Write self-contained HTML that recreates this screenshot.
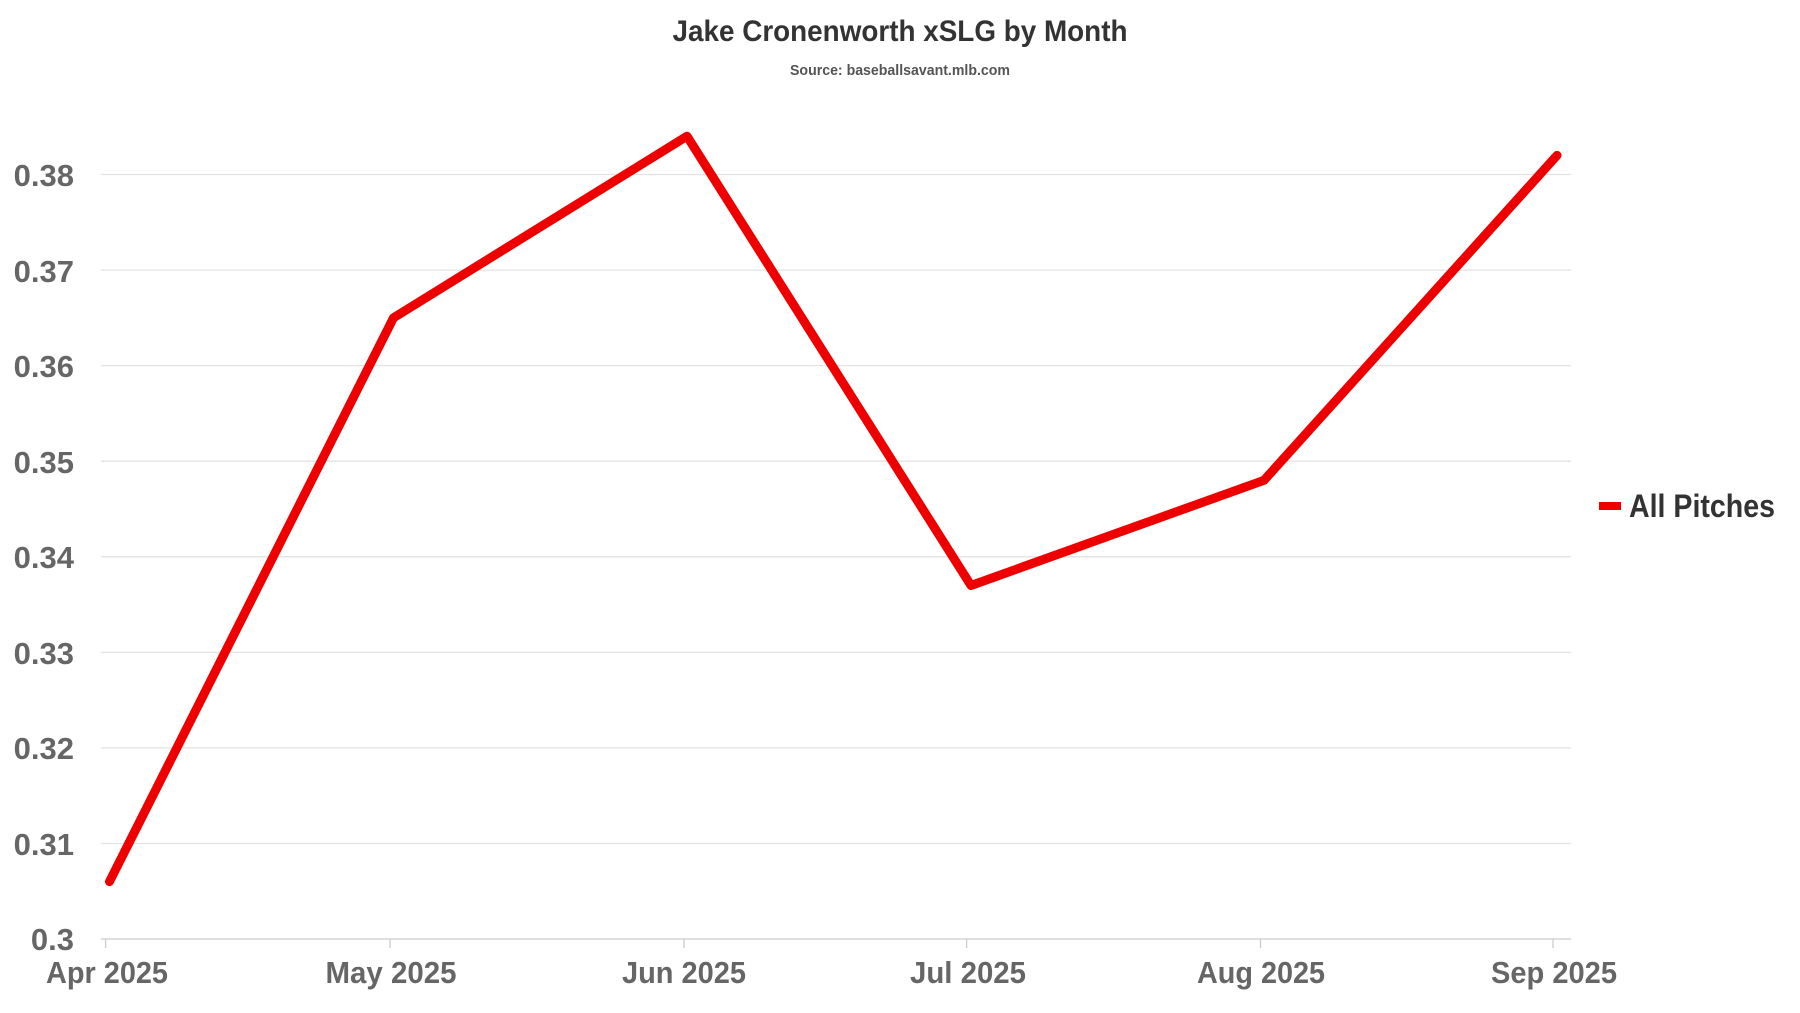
<!DOCTYPE html>
<html><head><meta charset="utf-8"><style>html,body{margin:0;padding:0;background:#fff}svg{display:block}text{font-family:"Liberation Sans Narrow","Liberation Sans",sans-serif;font-weight:bold}</style></head>
<body>
<svg width="1800" height="1013" viewBox="0 0 1800 1013" xmlns="http://www.w3.org/2000/svg">
<text x="900" y="41" text-anchor="middle" font-size="30" fill="#333" textLength="455" lengthAdjust="spacingAndGlyphs">Jake Cronenworth xSLG by Month</text>
<text x="900" y="75" text-anchor="middle" font-size="15" fill="#555" textLength="220" lengthAdjust="spacingAndGlyphs">Source: baseballsavant.mlb.com</text>
<g stroke="#e3e3e3" stroke-width="1.3">
<line x1="101" x2="1571" y1="174.5" y2="174.5"/>
<line x1="101" x2="1571" y1="270.1" y2="270.1"/>
<line x1="101" x2="1571" y1="365.6" y2="365.6"/>
<line x1="101" x2="1571" y1="461.2" y2="461.2"/>
<line x1="101" x2="1571" y1="556.8" y2="556.8"/>
<line x1="101" x2="1571" y1="652.4" y2="652.4"/>
<line x1="101" x2="1571" y1="747.9" y2="747.9"/>
<line x1="101" x2="1571" y1="843.5" y2="843.5"/>
</g>
<line x1="101" x2="1571" y1="939" y2="939" stroke="#ccc" stroke-width="1.3"/>
<g stroke="#ccc" stroke-width="1.3">
<line x1="105.6" x2="105.6" y1="939" y2="948"/><line x1="390" x2="390" y1="939" y2="948"/><line x1="684" x2="684" y1="939" y2="948"/><line x1="966.6" x2="966.6" y1="939" y2="948"/><line x1="1260.5" x2="1260.5" y1="939" y2="948"/><line x1="1553" x2="1553" y1="939" y2="948"/>
</g>
<g font-size="31" fill="#666" text-anchor="end">
<text x="74" y="186">0.38</text><text x="74" y="282">0.37</text><text x="74" y="377">0.36</text><text x="74" y="473">0.35</text><text x="74" y="568">0.34</text><text x="74" y="664">0.33</text><text x="74" y="759">0.32</text><text x="74" y="855">0.31</text><text x="74" y="950">0.3</text>
</g>
<g font-size="31" fill="#666" text-anchor="middle" lengthAdjust="spacingAndGlyphs">
<text x="107" y="983" textLength="122" lengthAdjust="spacingAndGlyphs">Apr 2025</text><text x="391" y="983" textLength="131" lengthAdjust="spacingAndGlyphs">May 2025</text><text x="684" y="983" textLength="124" lengthAdjust="spacingAndGlyphs">Jun 2025</text><text x="968" y="983" textLength="116" lengthAdjust="spacingAndGlyphs">Jul 2025</text><text x="1261" y="983" textLength="128" lengthAdjust="spacingAndGlyphs">Aug 2025</text><text x="1554" y="983" textLength="126" lengthAdjust="spacingAndGlyphs">Sep 2025</text>
</g>
<polyline fill="none" stroke="#ee0000" stroke-width="9" stroke-linejoin="round" stroke-linecap="round"
points="109.5,881.6 393.5,317.8 687,136.2 971,585.5 1264,480.3 1557,155.4"/>
<rect x="1599" y="502" width="22" height="8" fill="#ee0000"/>
<text x="1629" y="517" font-size="32" fill="#333" textLength="146" lengthAdjust="spacingAndGlyphs">All Pitches</text>
</svg>
</body></html>
